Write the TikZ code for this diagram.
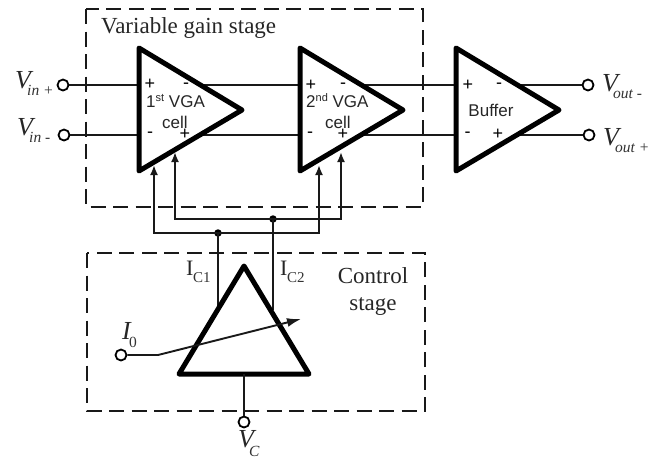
\documentclass[tikz,border=0pt]{standalone}
\usepackage{fontspec}
\setmainfont{Liberation Serif}
\newfontfamily\arialf{Liberation Sans}
\usetikzlibrary{arrows.meta}
\tikzset{
  thinw/.style={line width=1.9pt,draw=black!90},
  tri/.style={line width=5pt,line join=round,line cap=round,draw=black},
  dbox/.style={line width=1.9pt,draw=black!90,dash pattern=on 15pt off 7.5pt},
  term/.style={circle,draw=black,line width=1.8pt,fill=white,minimum size=11pt,inner sep=0pt},
  junction/.style={circle,fill=black,minimum size=7.5pt,inner sep=0pt},
  arr/.style={thinw,-{Latex[length=10pt,width=8pt]}},
  sf/.style={font=\arialf\fontsize{17}{19}\selectfont,inner sep=0pt,text=black!85},
  sign/.style={font=\arialf\fontsize{18}{18}\selectfont,inner sep=0pt,text=black},
  tm/.style={font=\fontsize{23}{25}\selectfont,inner sep=0pt,text=black!85,align=center},
  big/.style={font=\itshape\fontsize{26}{26}\selectfont,inner sep=0pt,anchor=base west,text=black!85},
  small/.style={font=\itshape\fontsize{15.5}{16}\selectfont,inner sep=0pt,anchor=base west,text=black!80},
  upbig/.style={font=\fontsize{22}{22}\selectfont,inner sep=0pt,anchor=base west,text=black!85},
  upsmall/.style={font=\fontsize{15}{15}\selectfont,inner sep=0pt,anchor=base west,text=black!80},
}
\begin{document}
\begin{tikzpicture}[x=1pt,y=-1pt]
\useasboundingbox (0,0) rectangle (667,459);
% dashed boxes
\coordinate (b1a) at (86,9); \coordinate (b1b) at (423,207);
\coordinate (b2a) at (87,253); \coordinate (b2b) at (425,411);
\draw[dbox] (b1a) rectangle (b1b);
\draw[dbox] (b2a) rectangle (b2b);
% triangle corners
\foreach \n/\x in {a/139,b/300,c/456}{
  \coordinate (\n-T) at (\x,48);
  \coordinate (\n-B) at (\x,171);
  \coordinate (\n-P) at ({\x+103},110);
  \coordinate (\n-iu) at (\x,85);
  \coordinate (\n-il) at (\x,135);
  \coordinate (\n-ou) at ({\x+61},85);
  \coordinate (\n-ol) at ({\x+61},135);
}
% terminals
\node[term] (vip) at (63,85) {};
\node[term] (vim) at (64,135) {};
\node[term] (vom) at (588,85) {};
\node[term] (vop) at (589,135) {};
\node[term] (i0) at (121,355) {};
\node[term] (vc) at (244,422) {};
% signal lines
\draw[thinw] (vip) -- (a-iu);
\draw[thinw] (vim) -- (a-il);
\draw[thinw] (a-ou) -- (b-iu);
\draw[thinw] (a-ol) -- (b-il);
\draw[thinw] (b-ou) -- (c-iu);
\draw[thinw] (b-ol) -- (c-il);
\draw[thinw] (c-ou) -- (vom);
\draw[thinw] (c-ol) -- (vop);
% control lines
\node[junction] (j1) at (218,233) {};
\node[junction] (j2) at (273,219) {};
\coordinate (c1) at (218,307);
\coordinate (c2) at (273,310);
\coordinate (a1) at (154,165); \coordinate (a2) at (175,152);
\coordinate (a3) at (319,165); \coordinate (a4) at (341,152);
\draw[thinw] (j1.center) -- (c1);
\draw[thinw] (j2.center) -- (c2);
\draw[arr] (j1.center) -| (a1);
\draw[arr] (j1.center) -| (a3);
\draw[arr] (j2.center) -| (a2);
\draw[arr] (j2.center) -| (a4);
% amplifiers
\foreach \n in {a,b,c}{ \draw[tri] (\n-T) -- (\n-P) -- (\n-B) -- cycle; }
% control amplifier
\coordinate (ct) at (244,266); \coordinate (cl) at (179,374); \coordinate (cr) at (309,374);
\coordinate (cb) at (244,374);
\draw[tri] (ct) -- (cr) -- (cl) -- cycle;
\draw[thinw] (cb) -- (vc);
\coordinate (ik) at (158,355); \coordinate (ie) at (301,319);
\draw[thinw,-{Latex[length=14pt,width=9pt]}] (i0) -- (ik) -- (ie);
% signs
\foreach \nm/\x/\y/\s in {s1/150/84/+,s2/186/86/-,s3/150/134.5/-,s4/185/134/+,
  s5/311/85/+,s6/343/86/-,s7/310/134.5/-,s8/343/134/+,
  s9/468/85/+,s10/499/86/-,s11/467.5/134.5/-,s12/498/134/+}{
  \node[sign] (\nm) at (\x,\y) {\s};
}
% cell labels
\node[sf,anchor=base west] (l1) at (146,107) {1\raisebox{5.5pt}{\fontsize{11}{11}\selectfont st} VGA};
\node[sf,anchor=base] (l2) at (175,128) {cell};
\node[sf,anchor=base west] (l3) at (306,107) {2\raisebox{5.5pt}{\fontsize{11}{11}\selectfont nd} VGA};
\node[sf,anchor=base] (l4) at (338,128) {cell};
\node[sf,anchor=base] (l5) at (491,116) {Buffer};
% stage labels
\node[tm,anchor=base west] (t1) at (101,33) {Variable gain stage};
\node[tm,anchor=base] (t2) at (373,283) {Control};
\node[tm,anchor=base] (t3) at (373,310) {stage};
% variable names
\node[big] (v1) at (15,88) {V}; \node[small] (v1s) at (27,95) {in +};
\node[big] (v2) at (17,135) {V}; \node[small] (v2s) at (29,142) {in -};
\node[big] (v3) at (602,91) {V}; \node[small] (v3s) at (613,98) {out -};
\node[big] (v4) at (603,145) {V}; \node[small] (v4s) at (615,152) {out +};
\node[big] (v5) at (238,447) {V}; \node[small] (v5s) at (249,456) {C};
\node[big] (v6) at (122,339) {I}; \node[small,font=\fontsize{15.5}{16}\selectfont] (v6s) at (129,347) {0};
\node[upbig] (ic1) at (186,275) {I}; \node[upsmall] (ic1s) at (193,282) {C1};
\node[upbig] (ic2) at (280,275) {I}; \node[upsmall] (ic2s) at (287,282) {C2};
\end{tikzpicture}
\end{document}
